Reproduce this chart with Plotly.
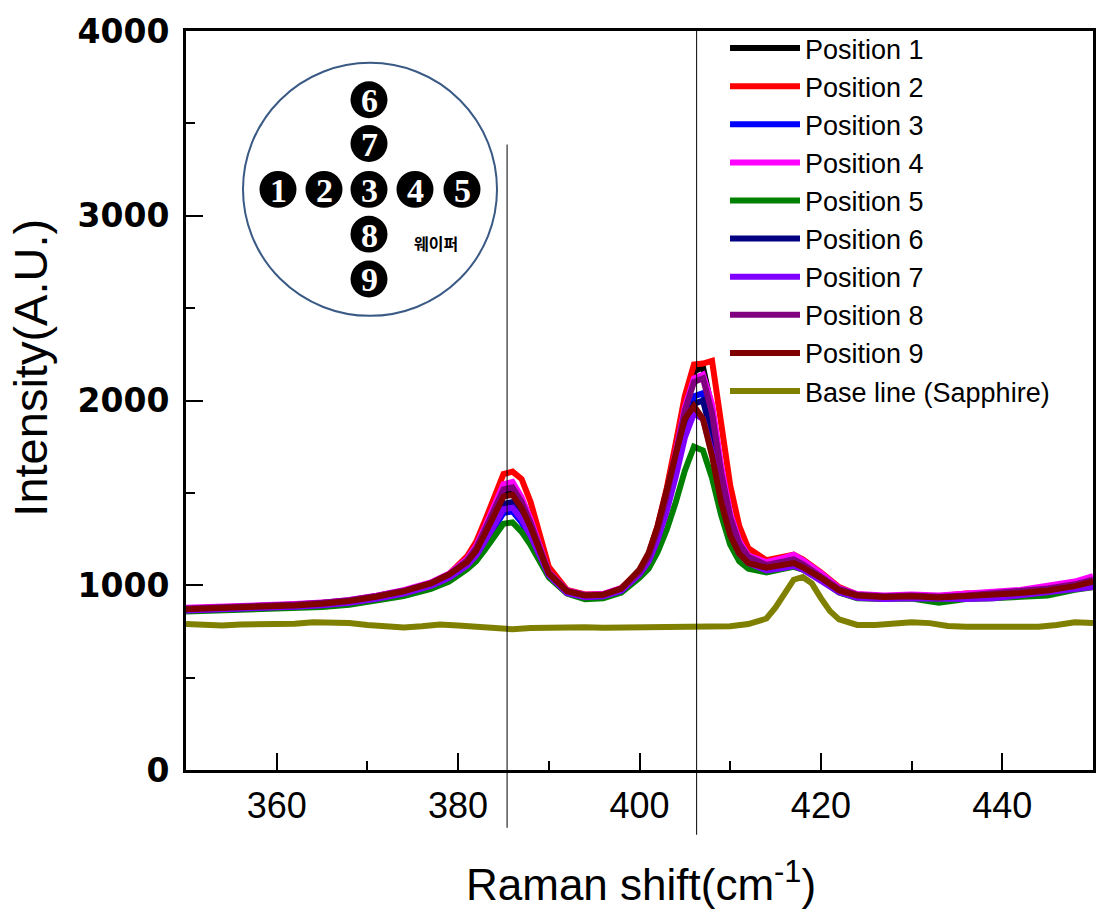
import plotly.graph_objects as go

# ---------------- data ----------------
raman_x = [350, 353, 356, 359, 362, 365, 368, 371, 374, 377, 379,
           381, 382, 383, 384, 385, 386, 387, 388, 389, 390,
           392, 394, 396, 398,
           400, 401, 402, 403, 404, 405, 406, 407, 408, 409, 410, 411, 412,
           414, 416, 417, 418, 420, 422, 424,
           427, 430, 433, 436, 439, 442, 445, 448, 450]

pos1 = [868, 872, 874, 880, 888, 897, 910, 932, 960, 1003, 1048,
        1130, 1195, 1293, 1401, 1499, 1510, 1434, 1326, 1195, 1065,
        968, 942, 945, 978,
        1076, 1162, 1314, 1509, 1747, 1996, 2158, 2180, 1953, 1607, 1357, 1217, 1152,
        1100, 1118, 1128, 1102, 1042, 975, 943,
        933, 937, 930, 935, 943, 953, 968, 988, 1008]
pos2 = [872, 875, 878, 884, 893, 902, 916, 940, 970, 1012, 1060,
        1157, 1236, 1353, 1484, 1602, 1615, 1575, 1450, 1280, 1100,
        975, 950, 952, 985,
        1078, 1167, 1323, 1524, 1769, 2025, 2195, 2200, 2215, 1880, 1540, 1320, 1200,
        1135, 1155, 1165, 1140, 1070, 990, 950,
        940, 945, 940, 955, 955, 965, 982, 1005, 1040]
pos3 = [866, 870, 872, 878, 886, 894, 907, 928, 955, 995, 1040,
        1102, 1153, 1230, 1315, 1391, 1400, 1340, 1255, 1153, 1051,
        960, 935, 940, 972,
        1067, 1143, 1277, 1449, 1659, 1879, 2022, 2040, 1850, 1560, 1340, 1200, 1130,
        1085, 1105, 1115, 1095, 1035, 965, 938,
        930, 932, 928, 930, 938, 948, 962, 980, 1000]
pos4 = [878, 882, 884, 890, 898, 906, 920, 944, 973, 1015, 1062,
        1143, 1214, 1321, 1440, 1547, 1559, 1476, 1357, 1214, 1071,
        972, 948, 952, 985,
        1073, 1157, 1303, 1492, 1722, 1962, 2119, 2140, 1980, 1650, 1390, 1240, 1160,
        1125, 1150, 1165, 1135, 1065, 985, 952,
        945, 950, 945, 952, 965, 975, 995, 1020, 1050]
pos5 = [858, 862, 864, 868, 875, 882, 895, 915, 942, 980, 1020,
        1087, 1130, 1195, 1268, 1333, 1340, 1289, 1217, 1130, 1043,
        955, 925, 930, 960,
        1040, 1090, 1180, 1300, 1450, 1620, 1750, 1730, 1580, 1380, 1220, 1130, 1090,
        1070, 1090, 1100, 1085, 1030, 960, 930,
        925, 928, 905, 925, 930, 935, 945, 975, 990]
pos6 = [865, 869, 872, 878, 886, 895, 908, 930, 958, 1000, 1045,
        1115, 1172, 1258, 1354, 1440, 1450, 1383, 1287, 1172, 1057,
        962, 938, 942, 975,
        1064, 1138, 1266, 1431, 1633, 1844, 1982, 2000, 1807, 1514, 1303, 1183, 1128,
        1092, 1108, 1118, 1095, 1035, 968, 940,
        932, 935, 930, 934, 940, 950, 965, 985, 1005]
pos7 = [864, 868, 871, 877, 884, 892, 905, 927, 955, 996, 1040,
        1107, 1161, 1241, 1331, 1411, 1420, 1358, 1268, 1161, 1054,
        958, 935, 940, 970,
        1060, 1128, 1247, 1401, 1589, 1800, 1930, 1900, 1720, 1470, 1280, 1170, 1120,
        1080, 1095, 1105, 1085, 1028, 962, 932,
        925, 930, 925, 925, 930, 945, 960, 975, 990]
pos8 = [874, 878, 881, 887, 896, 905, 919, 942, 970, 1012, 1058,
        1135, 1203, 1305, 1417, 1519, 1530, 1451, 1338, 1203, 1068,
        970, 946, 950, 982,
        1072, 1154, 1298, 1483, 1709, 1945, 2100, 2120, 1930, 1610, 1370, 1225, 1155,
        1110, 1130, 1140, 1115, 1050, 980, 948,
        940, 944, 938, 945, 955, 965, 982, 1005, 1030]
pos9 = [870, 874, 877, 883, 891, 900, 914, 938, 967, 1010, 1058,
        1125, 1188, 1282, 1386, 1480, 1490, 1417, 1313, 1188, 1063,
        968, 944, 948, 982,
        1085, 1175, 1320, 1500, 1710, 1900, 1970, 1900, 1700, 1450, 1270, 1170, 1120,
        1095, 1112, 1120, 1098, 1040, 972, 945,
        936, 940, 934, 940, 948, 958, 972, 995, 1020]

base_x = [350, 352, 354, 356, 358, 360, 362, 364, 366, 368, 370, 372, 374, 376, 378,
          380, 382, 384, 386, 388, 390, 392, 394, 396, 398, 400, 402, 404, 406, 408,
          410, 412, 414, 415, 416, 417, 418, 419, 420, 421, 422, 424, 426, 428, 430,
          432, 434, 436, 438, 440, 442, 444, 446, 448, 450]
base_y = [790, 785, 782, 788, 790, 785, 792, 800, 800, 795, 785, 775, 772, 778, 788,
          782, 775, 765, 762, 768, 772, 770, 772, 770, 772, 775, 772, 775, 775, 778,
          778, 790, 820, 880, 960, 1030, 1045, 1010, 930, 860, 815, 785, 785, 790, 800,
          795, 780, 775, 775, 770, 775, 775, 785, 800, 795]

series_names = ["Position 1", "Position 2", "Position 3", "Position 4", "Position 5",
                "Position 6", "Position 7", "Position 8", "Position 9"]
series_values = [pos1, pos2, pos3, pos4, pos5, pos6, pos7, pos8, pos9]
series_colors = ["#000000", "#FF0000", "#0000FF", "#FF00FF", "#008000",
                 "#000080", "#8000FF", "#800080", "#800000"]
base_name = "Base line (Sapphire)"
base_color = "#808000"

peak_lines = [385.4, 406.3]

x_ticks = [360, 380, 400, 420, 440]
y_ticks = [0, 1000, 2000, 3000, 4000]

wafer_numbers = ["1", "2", "3", "4", "5", "6", "7", "8", "9"]
wafer_label = "웨이퍼"

# ---------------- layout helpers ----------------
W, H = 1110, 920
L, R, T, B = 186, 1093, 28, 770   # plot area in page pixels


def px(xp):
    return (xp - L) / (R - L)


def py(yp):
    return (B - yp) / (B - T)


fig = go.Figure()
for name, vals, col in zip(series_names, series_values, series_colors):
    fig.add_trace(go.Scatter(x=raman_x, y=vals, mode="lines", name=name,
                             line=dict(color=col, width=6)))
fig.add_trace(go.Scatter(x=base_x, y=base_y, mode="lines", name=base_name,
                         line=dict(color=base_color, width=6)))

shapes = []
shapes.append(dict(type="line", xref="x", yref="paper", x0=peak_lines[0], x1=peak_lines[0],
                   y0=py(828), y1=py(142), line=dict(color="black", width=1)))
shapes.append(dict(type="line", xref="x", yref="paper", x0=peak_lines[1], x1=peak_lines[1],
                   y0=py(835), y1=py(T), line=dict(color="black", width=1)))

# inset wafer diagram
cx, cy, rad = 370, 187, 127
shapes.append(dict(type="circle", xref="paper", yref="paper",
                   x0=px(cx - rad), x1=px(cx + rad), y0=py(cy + rad), y1=py(cy - rad),
                   line=dict(color="#3A5A85", width=2), fillcolor="rgba(255,255,255,0)"))
disc_pos = [(278, 187), (324, 187), (369, 187), (415, 187), (462, 187),
            (369, 97), (369, 141), (369, 232), (369, 277)]
dr = 18.5
annotations = []
for lab, (dx, dy) in zip(wafer_numbers, disc_pos):
    shapes.append(dict(type="circle", xref="paper", yref="paper",
                       x0=px(dx - dr), x1=px(dx + dr), y0=py(dy + dr), y1=py(dy - dr),
                       line=dict(color="black", width=0), fillcolor="black"))
    annotations.append(dict(x=px(dx), y=py(dy + 1), xref="paper", yref="paper",
                            text="<b>%s</b>" % lab, showarrow=False,
                            font=dict(family="Liberation Serif, DejaVu Serif, serif",
                                      size=34, color="white"),
                            xanchor="center", yanchor="middle"))
annotations.append(dict(x=px(436), y=py(241), xref="paper", yref="paper",
                        text=wafer_label, showarrow=False,
                        font=dict(family="Noto Sans CJK KR", size=16, color="black", weight="bold"),
                        xanchor="center", yanchor="middle"))

# axis titles
annotations.append(dict(x=px(31), y=py(366), xref="paper", yref="paper",
                        text="Intensity(A.U.)", textangle=-90, showarrow=False,
                        font=dict(family="Liberation Sans, Arial, sans-serif", size=47, color="black"),
                        xanchor="center", yanchor="middle"))
annotations.append(dict(x=px(641), y=py(882), xref="paper", yref="paper",
                        text="Raman shift(cm<sup>-1</sup>)", showarrow=False,
                        font=dict(family="Liberation Sans, Arial, sans-serif",
                                  size=44, color="black"),
                        xanchor="center", yanchor="middle"))

fig.update_layout(
    width=W, height=H,
    margin=dict(l=L, r=W - R, t=T, b=H - B),
    paper_bgcolor="white", plot_bgcolor="white",
    showlegend=True,
    legend=dict(x=px(725), y=py(21), xanchor="left", yanchor="top",
                bgcolor="rgba(255,255,255,0)", borderwidth=0, itemwidth=70,
                font=dict(family="Liberation Sans, Arial, sans-serif", size=27, color="black"),
                tracegroupgap=0),
    shapes=shapes,
    annotations=annotations,
)

fig.update_xaxes(range=[350, 450], tickvals=x_ticks, ticktext=[str(v) for v in x_ticks],
                 ticks="inside", ticklen=17, tickwidth=2, tickcolor="black",
                 minor=dict(ticks="inside", ticklen=9, tickwidth=2, dtick=10, tick0=350, tickcolor="black"),
                 showline=True, linewidth=3, linecolor="black", mirror=True,
                 showgrid=False, zeroline=False,
                 tickfont=dict(family="Liberation Sans, Arial, sans-serif", size=36, color="black"),
                 ticklabelstandoff=2)
fig.update_yaxes(range=[0, 4000], tickvals=y_ticks, ticktext=[str(v) for v in y_ticks],
                 ticks="inside", ticklen=17, tickwidth=2, tickcolor="black",
                 minor=dict(ticks="inside", ticklen=9, tickwidth=2, dtick=500, tick0=0, tickcolor="black"),
                 showline=True, linewidth=3, linecolor="black", mirror=True,
                 showgrid=False, zeroline=False,
                 tickfont=dict(family="DejaVu Sans, sans-serif", size=33, color="black", weight="bold"),
                 ticklabelstandoff=7)

fig.write_html("out.html", config={"displayModeBar": False},
               post_script="document.body.style.margin='0px';")
